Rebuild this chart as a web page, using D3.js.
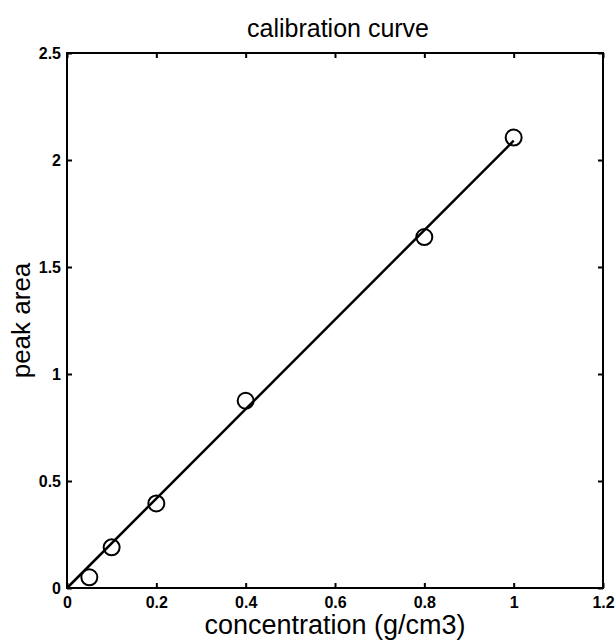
<!DOCTYPE html>
<html>
<head>
<meta charset="utf-8">
<script src="https://cdn.jsdelivr.net/npm/d3@7"></script>
<style>
  body { margin: 0; background: #fff; }
  svg { display: block; font-family: "Liberation Sans", Arial, sans-serif; }
</style>
</head>
<body>
<svg id="chart" width="616" height="644"></svg>
<script>
// measured calibration points
const concentration = [0.05, 0.1, 0.2, 0.4, 0.8, 1.0];
const peakArea = [0.05, 0.19, 0.395, 0.875, 1.64, 2.105];

// fitted line, two end points
const fitX = [0.0, 1.0];
const fitY = [0.0, 2.09];

const xTicks = [0, 0.2, 0.4, 0.6, 0.8, 1, 1.2];
const yTicks = [0, 0.5, 1, 1.5, 2, 2.5];

const width = 616;
const height = 644;
const margin = { top: 53, right: 13, bottom: 56, left: 67 };
const innerW = width - margin.left - margin.right;
const innerH = height - margin.top - margin.bottom;

const svg = d3.select("#chart");
const g = svg.append("g").attr("transform", `translate(${margin.left},${margin.top})`);

const x = d3.scaleLinear().domain([0, 1.2]).range([0, innerW]);
const y = d3.scaleLinear().domain([0, 2.5]).range([innerH, 0]);

// ticks pointing inwards, MATLAB style box
const tickLen = 5;
const fmt = d => String(d);

const styleAxis = sel => {
  sel.select(".domain").remove();
  sel.selectAll(".tick line").attr("stroke", "#000").attr("stroke-width", 2);
  sel.selectAll(".tick text")
    .attr("fill", "#000")
    .style("font-size", "16px")
    .style("font-weight", "bold");
};

g.append("g")
  .attr("transform", `translate(0,${innerH})`)
  .call(d3.axisBottom(x).tickValues(xTicks).tickFormat(fmt).tickSizeInner(-tickLen).tickSizeOuter(0).tickPadding(9))
  .call(styleAxis);

g.append("g")
  .call(d3.axisTop(x).tickValues(xTicks).tickFormat("").tickSizeInner(-tickLen).tickSizeOuter(0))
  .call(styleAxis);

g.append("g")
  .call(d3.axisLeft(y).tickValues(yTicks).tickFormat(fmt).tickSizeInner(-tickLen).tickSizeOuter(0).tickPadding(6))
  .call(styleAxis);

g.append("g")
  .attr("transform", `translate(${innerW},0)`)
  .call(d3.axisRight(y).tickValues(yTicks).tickFormat("").tickSizeInner(-tickLen).tickSizeOuter(0))
  .call(styleAxis);

g.append("rect")
  .attr("width", innerW)
  .attr("height", innerH)
  .attr("fill", "none")
  .attr("stroke", "#000")
  .attr("stroke-width", 2);

// fit line
const line = d3.line().x(d => x(d[0])).y(d => y(d[1]));
g.append("path")
  .datum(d3.zip(fitX, fitY))
  .attr("d", line)
  .attr("fill", "none")
  .attr("stroke", "#000")
  .attr("stroke-width", 2.5);

// data markers
g.selectAll("circle.pt")
  .data(d3.zip(concentration, peakArea))
  .join("circle")
  .attr("class", "pt")
  .attr("cx", d => x(d[0]))
  .attr("cy", d => y(d[1]))
  .attr("r", 8)
  .attr("fill", "none")
  .attr("stroke", "#000")
  .attr("stroke-width", 2);

// labels
svg.append("text")
  .attr("x", margin.left + innerW / 2 + 3)
  .attr("y", 37)
  .attr("text-anchor", "middle")
  .style("font-size", "25px")
  .text("calibration curve");

svg.append("text")
  .attr("x", margin.left + innerW / 2)
  .attr("y", 634)
  .attr("text-anchor", "middle")
  .style("font-size", "27px")
  .text("concentration (g/cm3)");

svg.append("text")
  .attr("transform", `translate(30,${margin.top + innerH / 2}) rotate(-90)`)
  .attr("text-anchor", "middle")
  .style("font-size", "26px")
  .text("peak area");
</script>
</body>
</html>
